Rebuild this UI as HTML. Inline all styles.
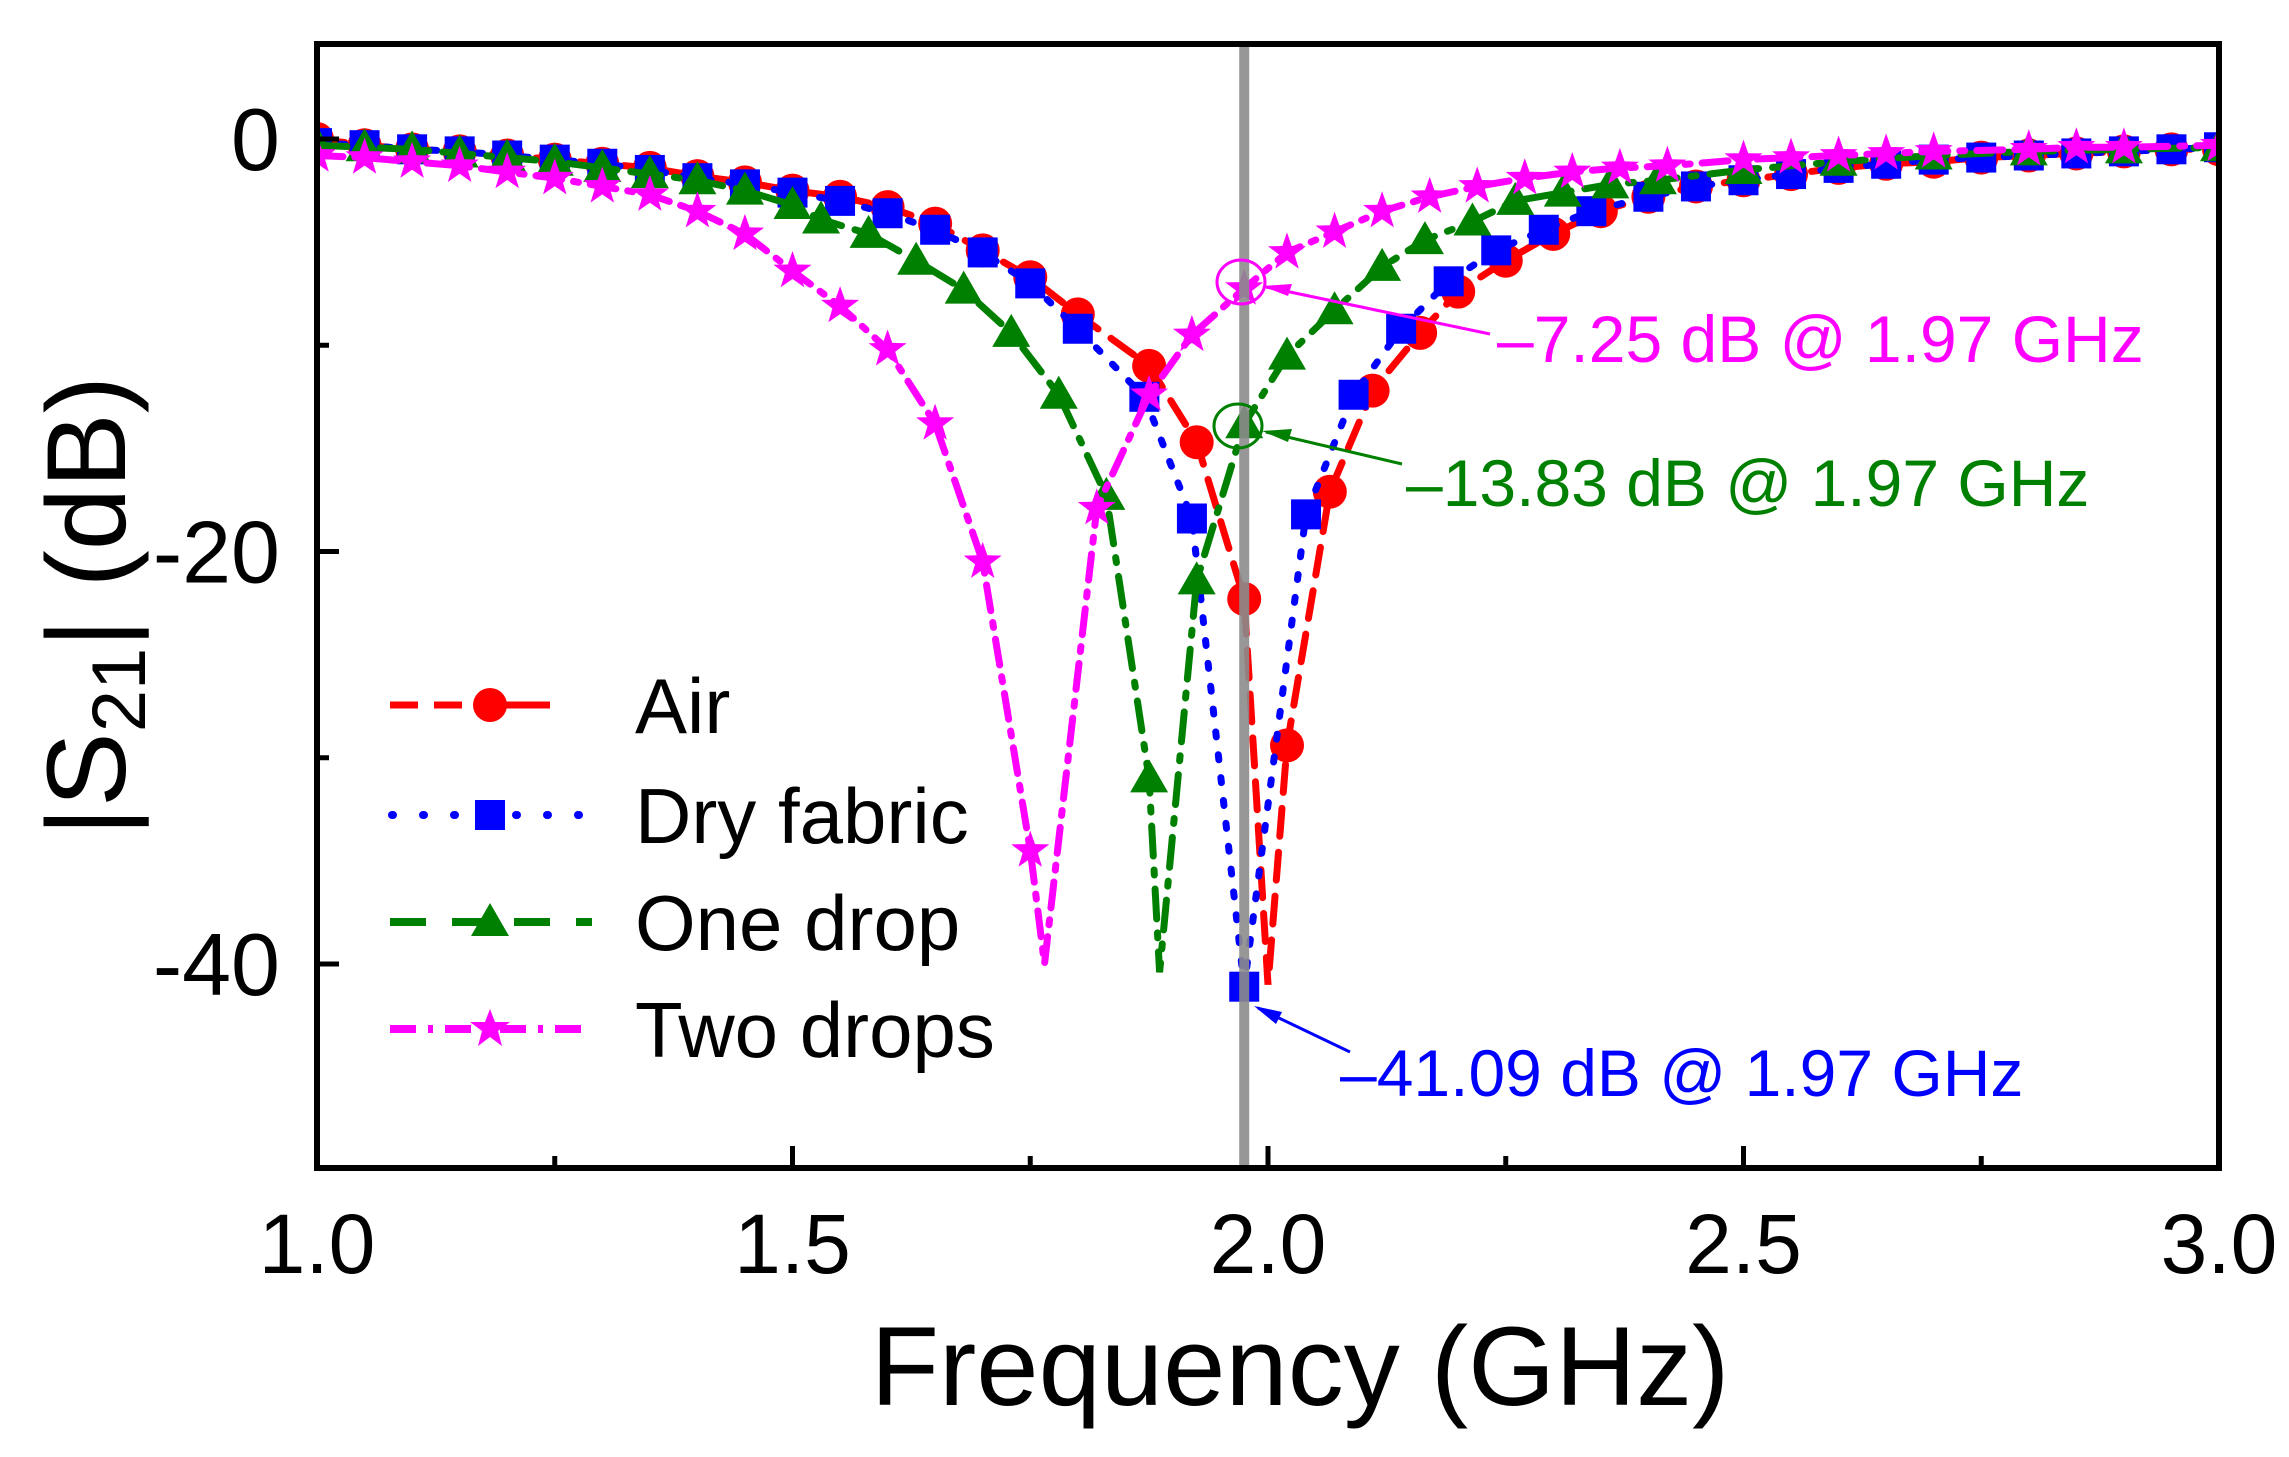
<!DOCTYPE html>
<html><head><meta charset="utf-8"><style>
html,body{margin:0;padding:0;background:#fff}
svg{display:block}
text{font-family:"Liberation Sans",Arial,sans-serif}
</style></head><body>
<svg id="chart" width="2289" height="1457" viewBox="0 0 2289 1457" xmlns="http://www.w3.org/2000/svg">
<g id="plot"></g>
</svg>
<script>
const xTicks=[1.0,1.5,2.0,2.5,3.0];
const xTickLabels=["1.0","1.5","2.0","2.5","3.0"];
const xMinor=[1.25,1.75,2.25,2.75];
const yTicks=[0,-20,-40];
const yTickLabels=["0","-20","-40"];
const yMinor=[-10,-30];
const airF=[1.0,1.05,1.1,1.15,1.2,1.25,1.3,1.35,1.4,1.45,1.5,1.55,1.6,1.65,1.7,1.75,1.8,1.875,1.925,1.975,2.0,2.02,2.065,2.11,2.16,2.2,2.25,2.3,2.35,2.4,2.45,2.5,2.55,2.6,2.65,2.7,2.75,2.8,2.85,2.9,2.95,3.0];
const airV=[0,-0.3,-0.5,-0.6,-0.8,-1.0,-1.2,-1.4,-1.8,-2.1,-2.5,-2.8,-3.3,-4.1,-5.4,-6.7,-8.5,-11,-14.7,-22.3,-41,-29.4,-17.1,-12.2,-9.4,-7.4,-5.9,-4.6,-3.5,-2.8,-2.3,-2.0,-1.7,-1.4,-1.2,-1.1,-0.9,-0.8,-0.7,-0.6,-0.5,-0.5];
const dryF=[1.0,1.05,1.1,1.15,1.2,1.25,1.3,1.35,1.4,1.45,1.5,1.55,1.6,1.65,1.7,1.75,1.8,1.87,1.92,1.975,2.04,2.09,2.14,2.19,2.24,2.29,2.34,2.4,2.45,2.5,2.55,2.6,2.65,2.7,2.75,2.8,2.85,2.9,2.95,3.0];
const dryV=[-0.2,-0.3,-0.5,-0.6,-0.8,-1.0,-1.2,-1.5,-1.9,-2.2,-2.6,-3.0,-3.6,-4.4,-5.5,-7.0,-9.2,-12.5,-18.4,-41.1,-18.2,-12.4,-9.2,-6.9,-5.4,-4.4,-3.5,-2.8,-2.3,-2.0,-1.7,-1.4,-1.2,-1.0,-0.9,-0.8,-0.7,-0.6,-0.5,-0.4];
const oneF=[1.0,1.05,1.1,1.15,1.2,1.25,1.3,1.35,1.4,1.45,1.5,1.53,1.58,1.63,1.68,1.73,1.78,1.83,1.875,1.886,1.925,1.975,2.02,2.07,2.12,2.165,2.215,2.26,2.31,2.36,2.41,2.5,2.6,2.7,2.8,2.9,3.0];
const oneV=[-0.3,-0.4,-0.5,-0.7,-0.9,-1.1,-1.4,-1.7,-2.0,-2.5,-3.2,-3.9,-4.6,-5.9,-7.3,-9.4,-12.4,-17.3,-31,-40.4,-21.4,-13.83,-10.5,-8.3,-6.2,-4.9,-4.0,-3.0,-2.6,-2.2,-2.0,-1.5,-1.1,-0.8,-0.6,-0.5,-0.4];
const twoF=[1.0,1.05,1.1,1.15,1.2,1.25,1.3,1.35,1.4,1.45,1.5,1.55,1.6,1.65,1.7,1.75,1.765,1.82,1.875,1.92,1.975,2.02,2.07,2.12,2.17,2.22,2.27,2.32,2.37,2.42,2.5,2.55,2.6,2.65,2.7,2.8,2.85,2.9,3.0];
const twoV=[-0.8,-0.9,-1.1,-1.3,-1.6,-1.9,-2.3,-2.7,-3.5,-4.6,-6.4,-8.1,-10.2,-13.8,-20.5,-34.5,-40,-17.9,-12.4,-9.5,-7.25,-5.5,-4.5,-3.5,-2.8,-2.3,-1.9,-1.6,-1.4,-1.3,-1.0,-0.9,-0.8,-0.7,-0.6,-0.5,-0.4,-0.4,-0.3];
const X0=317,X1=2219,Y0=44,Y1=1168;
function xs(f){return X0+(f-1)*(X1-X0)/2;}
function ys(v){return 139-v*(964-139)/40;}
const NS="http://www.w3.org/2000/svg";
const g=document.getElementById('plot');
function mk(tag,attrs,parent){const e=document.createElementNS(NS,tag);for(const k in attrs)e.setAttribute(k,attrs[k]);(parent||g).appendChild(e);return e;}
const clip=mk('clipPath',{id:'pc'});mk('rect',{x:X0,y:Y0,width:X1-X0,height:Y1-Y0},clip);
const series=[
 {n:'air',f:airF,v:airV,c:'#ff0000',dash:'28 16',m:'circle',skip:[2.0]},
 {n:'dry-fabric',f:dryF,v:dryV,c:'#0000ff',dash:'5 18',m:'square',skip:[]},
 {n:'one-drop',f:oneF,v:oneV,c:'#008000',dash:'30 14 5 14',m:'tri',skip:[1.886]},
 {n:'two-drops',f:twoF,v:twoV,c:'#ff00ff',dash:'26 12 5 12',m:'star',skip:[1.765]}
];
function marker(type,x,y,c,parent){
 let e;
 if(type==='circle'){e=mk('ellipse',{cx:x,cy:y,rx:17,ry:17,fill:c},parent);}
 else if(type==='square'){e=mk('rect',{x:x-15,y:y-15,width:30,height:30,fill:c},parent);}
 else if(type==='tri'){e=mk('polygon',{points:`${x},${y-19} ${x+19},${y+14} ${x-19},${y+14}`,fill:c},parent);}
 else {let p=[];for(let i=0;i<10;i++){const r=i%2?8:20,a=-Math.PI/2+i*Math.PI/5;p.push((x+r*Math.cos(a)).toFixed(1)+','+(y+r*Math.sin(a)).toFixed(1));}e=mk('polygon',{points:p.join(' '),fill:c},parent);}
 return e;
}
series.forEach(s=>{
 const sg=mk('g',{'clip-path':'url(#pc)'});
 
 
 const pts=s.f.map((f,i)=>xs(f).toFixed(1)+','+ys(s.v[i]).toFixed(1)).join(' ');
 const pl=mk('polyline',{points:pts,fill:'none',stroke:s.c,'stroke-width':7,'stroke-dasharray':s.dash,'stroke-linecap':'round'},sg);
 
 
 s.f.forEach((f,i)=>{if(s.skip.includes(f))return;const m=marker(s.m,xs(f),ys(s.v[i]),s.c,sg);
  
  });
});
const vl=mk('line',{x1:xs(1.975),x2:xs(1.975),y1:Y0,y2:Y1,stroke:'#8c8c8c','stroke-width':10,opacity:0.9});


const fr=mk('rect',{x:X0,y:Y0,width:X1-X0,height:Y1-Y0,fill:'none',stroke:'#000','stroke-width':6});


xTicks.forEach((t,i)=>{
 const l=mk('line',{x1:xs(t),x2:xs(t),y1:Y1,y2:Y1-22,stroke:'#000','stroke-width':5});
 
 
 const tx=mk('text',{x:xs(t),y:1273,'font-size':84,'text-anchor':'middle',fill:'#000'});tx.textContent=xTickLabels[i];
 
 
});
xMinor.forEach(t=>{const l=mk('line',{x1:xs(t),x2:xs(t),y1:Y1,y2:Y1-12,stroke:'#000','stroke-width':5});
 
 });
yTicks.forEach((t,i)=>{
 const l=mk('line',{x1:X0,x2:X0+22,y1:ys(t),y2:ys(t),stroke:'#000','stroke-width':5});
 
 
 const tx=mk('text',{x:280,y:ys(t)+31,'font-size':88,'text-anchor':'end',fill:'#000'});tx.textContent=yTickLabels[i];
 
 
});
yMinor.forEach(t=>{const l=mk('line',{x1:X0,x2:X0+12,y1:ys(t),y2:ys(t),stroke:'#000','stroke-width':5});
 
 });
</script>
<svg style="position:absolute;left:0;top:0" width="2289" height="1457" xmlns="http://www.w3.org/2000/svg">
<text x="1300" y="1405" font-size="112" text-anchor="middle">Frequency (GHz)</text>
<text transform="translate(125,606) rotate(-90)" font-size="112" text-anchor="middle">|S<tspan font-size="76" dy="20">21</tspan><tspan dy="-20">| (dB)</tspan></text>
<g>
 <g><line x1="390" x2="550" y1="705" y2="705" stroke="#ff0000" stroke-width="7" stroke-dasharray="28 16"/><line x1="485" x2="550" y1="705" y2="705" stroke="#ff0000" stroke-width="7"/><circle cx="490" cy="705" r="17" fill="#ff0000"/><text x="635" y="733" font-size="78">Air</text></g>
 <g><line x1="392" x2="595" y1="815" y2="815" stroke="#0000ff" stroke-width="8" stroke-dasharray="1 30" stroke-linecap="round"/><rect x="475" y="800" width="30" height="30" fill="#0000ff"/><text x="635" y="843" font-size="78">Dry fabric</text></g>
 <g><line x1="390" x2="592" y1="922" y2="922" stroke="#008000" stroke-width="8" stroke-dasharray="36 26"/><polygon points="490,903 509,936 471,936" fill="#008000"/><text x="635" y="950" font-size="78">One drop</text></g>
 <g><line x1="390" x2="592" y1="1029" y2="1029" stroke="#ff00ff" stroke-width="8" stroke-dasharray="26 12 5 12"/><polygon points="490,1009 495,1022 510,1022 498,1031 502,1046 490,1037 478,1046 482,1031 470,1022 485,1022" fill="#ff00ff"/><text x="635" y="1057" font-size="78">Two drops</text></g>
</g>
<g>
 <ellipse cx="1241" cy="282" rx="24" ry="22" fill="none" stroke="#ff00ff" stroke-width="3"/>
 <line x1="1490" y1="334" x2="1266" y2="287" stroke="#ff00ff" stroke-width="3"/><polygon points="1262,286 1292,284 1288,296" fill="#ff00ff"/>
 <text x="1497" y="362" font-size="66" fill="#ff00ff">–7.25 dB @ 1.97 GHz</text>
</g>
<g>
 <ellipse cx="1238" cy="426" rx="24" ry="22" fill="none" stroke="#008000" stroke-width="3"/>
 <line x1="1402" y1="464" x2="1266" y2="432" stroke="#008000" stroke-width="3"/><polygon points="1262,431 1292,429 1288,442" fill="#008000"/>
 <text x="1406" y="506" font-size="66" fill="#008000">–13.83 dB @ 1.97 GHz</text>
</g>
<g>
 <line x1="1350" y1="1052" x2="1258" y2="1008" stroke="#0000ff" stroke-width="3"/><polygon points="1254,1006 1282,1012 1276,1024" fill="#0000ff"/>
 <text x="1340" y="1096" font-size="66" fill="#0000ff">–41.09 dB @ 1.97 GHz</text>
</g>
</svg>
</body></html>
